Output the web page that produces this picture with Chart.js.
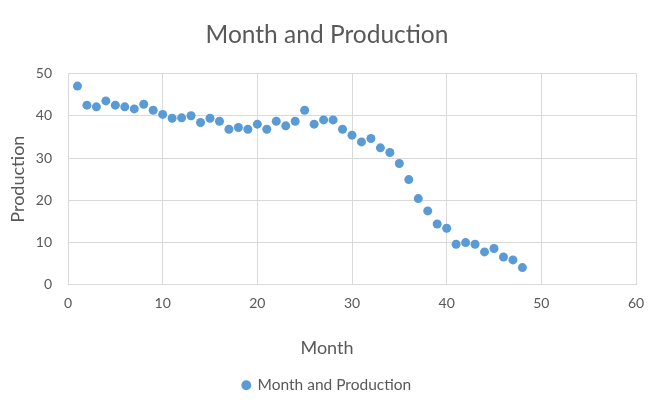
<!DOCTYPE html>
<html>
<head>
<meta charset="utf-8">
<script src="https://cdn.jsdelivr.net/npm/chart.js@4/dist/chart.umd.min.js"></script>
<style>
  html, body { margin: 0; padding: 0; background: #ffffff; }
  #wrap { width: 663px; height: 411px; }
</style>
</head>
<body>
<div id="wrap"><canvas id="c" width="663" height="411"></canvas></div>
<script>
// Monthly production figures
const months = [1,2,3,4,5,6,7,8,9,10,11,12,13,14,15,16,17,18,19,20,21,22,23,24,
                25,26,27,28,29,30,31,32,33,34,35,36,37,38,39,40,41,42,43,44,45,46,47,48];
const production = [47.0,42.5,42.1,43.5,42.5,42.1,41.6,42.7,41.3,40.3,39.4,39.5,40.0,38.4,39.4,38.7,
                     36.8,37.2,36.8,38.0,36.8,38.7,37.6,38.7,41.3,38.0,39.0,39.0,36.8,35.4,33.8,34.6,
                     32.4,31.3,28.7,24.9,20.4,17.5,14.4,13.4,9.6,10.0,9.6,7.8,8.6,6.6,5.9,4.1];
const xTicks = [0,10,20,30,40,50,60];
const yTicks = [0,10,20,30,40,50];

const textColor = '#595959';
const gridColor = '#d9d9d9';
const pointColor = '#5b9bd5';
const fontFamily = 'Lato, "Open Sans", sans-serif';

const points = months.map((m, i) => ({ x: m, y: production[i] }));

new Chart(document.getElementById('c'), {
  type: 'scatter',
  data: {
    datasets: [{
      label: 'Month and Production',
      data: points,
      backgroundColor: pointColor,
      borderColor: pointColor,
      pointRadius: 4.5,
      pointHoverRadius: 4.5,
      pointBorderWidth: 0
    }]
  },
  options: {
    responsive: false,
    animation: false,
    devicePixelRatio: 1,
    layout: { padding: { left: 0, right: 9, top: 0, bottom: 8 } },
    plugins: {
      tooltip: { enabled: false },
      title: {
        display: true,
        text: 'Month and Production',
        color: textColor,
        font: { family: fontFamily, size: 24.5, weight: 'normal' },
        padding: { top: 20, bottom: 24 }
      },
      // x-axis caption, centred across the whole chart like the title and legend
      subtitle: {
        display: true,
        position: 'bottom',
        weight: 500,
        text: 'Month',
        color: textColor,
        font: { family: fontFamily, size: 18, weight: 'normal' },
        padding: { top: 12, bottom: 9 }
      },
      legend: {
        display: true,
        position: 'bottom',
        labels: {
          color: textColor,
          font: { family: fontFamily, size: 15.5 },
          usePointStyle: true,
          pointStyle: 'circle',
          boxWidth: 7,
          boxHeight: 7,
          padding: 10
        }
      }
    },
    scales: {
      x: {
        type: 'linear',
        min: 0,
        max: 60,
        afterBuildTicks: (axis) => { axis.ticks = xTicks.map(v => ({ value: v })); },
        afterFit: (axis) => { axis.height = 40; },
        ticks: { color: textColor, font: { family: fontFamily, size: 14 }, padding: 10 },
        grid: { color: gridColor, drawTicks: false, lineWidth: 1 },
        border: { color: gridColor }
      },
      y: {
        type: 'linear',
        min: 0,
        max: 50,
        afterBuildTicks: (axis) => { axis.ticks = yTicks.map(v => ({ value: v })); },
        afterFit: (axis) => { axis.width = 68; },
        ticks: { color: textColor, font: { family: fontFamily, size: 14 }, padding: 16 },
        grid: { color: gridColor, drawTicks: false, lineWidth: 1 },
        border: { color: gridColor },
        title: {
          display: true,
          text: 'Production',
          color: textColor,
          font: { family: fontFamily, size: 18 },
          padding: { top: 7, bottom: 0 }
        }
      },
      // empty margin on the right of the plot area
      gutter: {
        type: 'linear',
        position: 'right',
        display: true,
        min: 0,
        max: 1,
        afterFit: (axis) => { axis.width = 18; },
        ticks: { display: false },
        grid: { display: false, drawTicks: false },
        border: { display: false }
      }
    }
  }
});
</script>
</body>
</html>
